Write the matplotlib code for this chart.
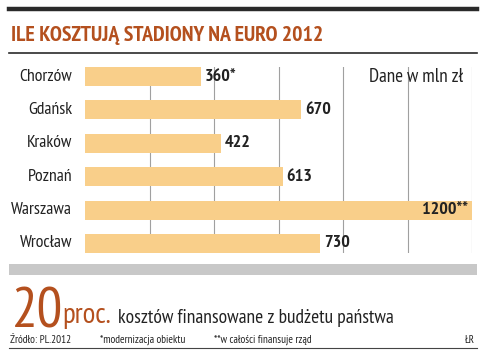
import matplotlib.pyplot as plt
from matplotlib.lines import Line2D
from matplotlib.patches import Rectangle

cities = ['Chorzów', 'Gdańsk', 'Kraków', 'Poznań', 'Warszawa', 'Wrocław']
costs = [360, 670, 422, 613, 1200, 730]
labels = ['360*', '670', '422', '613', '1200**', '730']
grid_ticks = [200, 400, 600, 800, 1000, 1200]

bar_color = '#f9cf8a'
orange = '#b4501e'
dark = '#222222'

plt.rcParams['font.family'] = ['PT Sans Narrow', 'DejaVu Sans']

fig = plt.figure(figsize=(4.86, 3.61), dpi=100)
W, H = 486, 361


def fx(px):
    return px / W


def fy(py):
    return 1 - py / H


# header lines and title
fig.add_artist(Line2D([fx(9), fx(477)], [fy(9), fy(9)], color='#2a2a2a', lw=3.2))
fig.add_artist(Line2D([fx(9), fx(477)], [fy(53), fy(53)], color='#2a2a2a', lw=1.2))
fig.text(fx(11), fy(41), 'ILE KOSZTUJĄ STADIONY NA EURO 2012', color=orange,
         fontsize=15.7, fontweight='bold', va='baseline', ha='left')

# bar chart
h = 0.57
ax = fig.add_axes([fx(85), fy(253), fx(472) - fx(85), fy(67) - fy(253)])
ax.set_xlim(0, 1200)
ax.set_ylim(5 + h / 2, -h / 2)
for t in grid_ticks:
    ax.axvline(t, color='#a0a0a0', lw=0.8, zorder=0)
ax.barh(range(len(cities)), costs, height=h, color=bar_color, zorder=2)
for i, (c, v, lab) in enumerate(zip(cities, costs, labels)):
    ax.text(-40, i, c, ha='right', va='center', fontsize=12.8, color=dark,
            clip_on=False)
    if v >= 1100:
        ax.text(v - 12, i, lab, ha='right', va='center', fontsize=13,
                fontweight='bold', color=dark, zorder=3)
    else:
        ax.text(v + 12, i, lab, ha='left', va='center', fontsize=13,
                fontweight='bold', color=dark, zorder=3)
ax.text(1173, 0, 'Dane w mln zł', ha='right', va='center', fontsize=13.8, color=dark)
ax.set_axis_off()

# grey band
fig.add_artist(Rectangle((fx(9), fy(275)), fx(477) - fx(9), fy(264) - fy(275),
                         color='#c8c8c8', lw=0))

# big number line
fig.text(fx(12), fy(327), '20', color=orange, fontsize=41, va='baseline', ha='left')
fig.text(fx(62), fy(323), 'proc.', color=orange, fontsize=21, va='baseline', ha='left')
fig.text(fx(118), fy(323), 'kosztów finansowane z budżetu państwa', color=dark,
         fontsize=14, va='baseline', ha='left')

# footer
fig.text(fx(10), fy(343), 'Źródło: PL.2012', fontsize=8, color=dark, va='baseline')
fig.text(fx(100), fy(343), '*modernizacja obiektu', fontsize=8, color=dark, va='baseline')
fig.text(fx(214), fy(343), '**w całości finansuje rząd', fontsize=8, color=dark, va='baseline')
fig.text(fx(475), fy(343), 'ŁR', fontsize=8, color=dark, va='baseline', ha='right')
fig.add_artist(Line2D([fx(9), fx(477)], [fy(348), fy(348)], color='#444444', lw=0.8))

fig.savefig('out.png', dpi=100, facecolor='white')
